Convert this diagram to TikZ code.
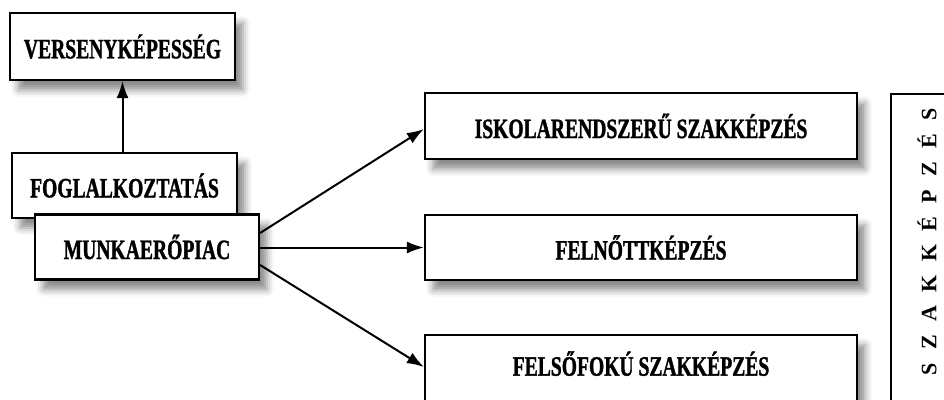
\documentclass[tikz,border=0pt]{standalone}
\usepackage{fontspec}
\newfontfamily\condfont[FakeStretch=0.70, BoldFeatures={FakeBold=1.2}]{Liberation Serif}
\newfontfamily\vertfont{Liberation Serif}
\usetikzlibrary{shadows.blur,arrows.meta,calc}
\tikzset{
  box/.style={draw=black, line width=2.2pt, fill=white, rectangle, inner sep=0pt,
    font=\condfont\bfseries\fontsize{28}{32}\selectfont,
    blur shadow={shadow xshift=8pt, shadow yshift=-10pt, shadow blur radius=7pt, shadow opacity=45}},
  conn/.style={line width=2pt, -{Latex[length=17pt,width=12pt]}},
}
\begin{document}
\begin{tikzpicture}[x=1pt,y=-1pt]
\useasboundingbox (0,0) rectangle (944,399);
\node[box, minimum width=225pt, minimum height=67pt] (vers) at (122.5,46.5) {VERSENYKÉPESSÉG};
\node[box, minimum width=225pt, minimum height=65pt] (fogl) at (124.5,185.5) {FOGLALKOZTATÁS};
\node[box, minimum width=224pt, minimum height=65pt] (munka) at (147,247) {MUNKAERŐPIAC};
\node[box, minimum width=432pt, minimum height=66pt] (isk) at (641,126) {ISKOLARENDSZERŰ SZAKKÉPZÉS};
\node[box, minimum width=432pt, minimum height=65pt] (feln) at (641,247.5) {FELNŐTTKÉPZÉS};
\node[box, minimum width=432pt, minimum height=67pt] (felso) at (641,368.5) {\raisebox{10pt}{FELSŐFOKÚ SZAKKÉPZÉS}};
\node[box, rotate=90, minimum width=316pt, minimum height=72pt,
      font=\vertfont\bfseries\fontsize{22}{26}\selectfont] (szak) at (927,252)
      {\hspace*{21pt}{\spaceskip=13.4pt S Z A K K É P Z É S}};
\draw[conn] (vers.south |- fogl.north) -- (vers.south);
\draw[conn] ($(munka.east)+(0,-14)$) -- ($(isk.west)+(0,3)$);
\draw[conn] (feln.west -| munka.east) -- (feln.west);
\draw[conn] ($(munka.east)+(0,18)$) -- ($(felso.west)+(0,-1.5)$);
\end{tikzpicture}
\end{document}
